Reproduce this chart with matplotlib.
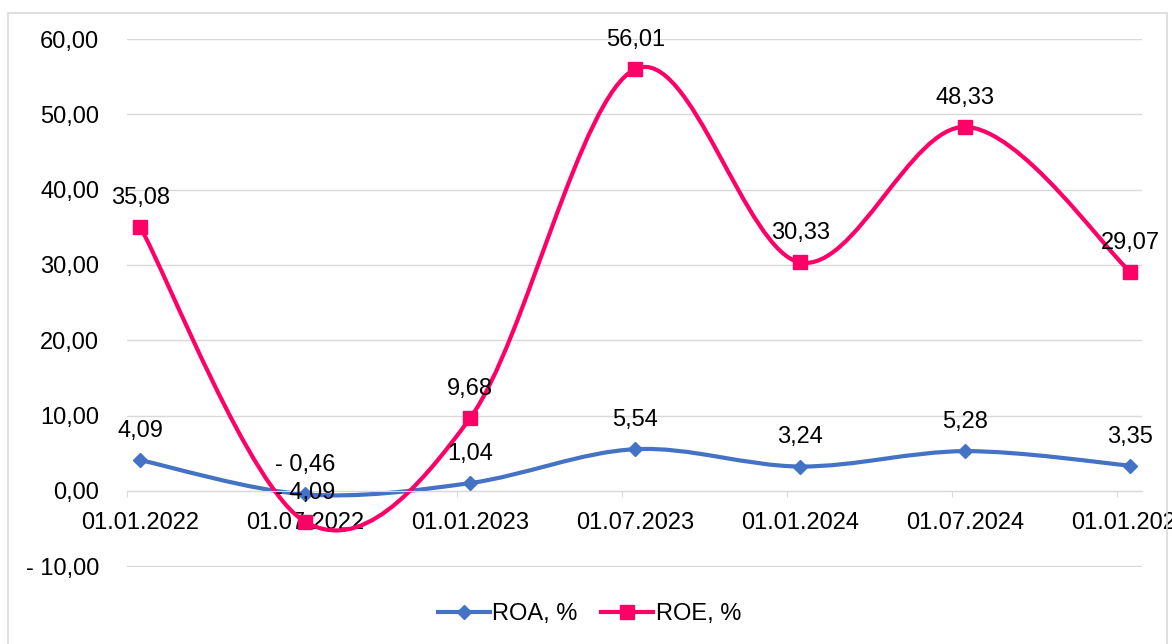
import matplotlib.pyplot as plt
from matplotlib.patches import PathPatch, Rectangle
from matplotlib.path import Path
from matplotlib.ticker import FuncFormatter

# データ
dates = ['01.01.2022', '01.07.2022', '01.01.2023', '01.07.2023',
         '01.01.2024', '01.07.2024', '01.01.2025']
roa = [4.09, -0.46, 1.04, 5.54, 3.24, 5.28, 3.35]
roe = [35.08, -4.09, 9.68, 56.01, 30.33, 48.33, 29.07]

BLUE = '#4472C4'
PINK = '#FF0066'
GRID = '#D9D9D9'
FS = 17

plt.rcParams['font.family'] = ['Liberation Sans', 'DejaVu Sans']


def fmt(v):
    # 「- 10,00」形式
    s = f'{abs(v):.2f}'.replace('.', ',')
    return f'- {s}' if v < 0 else s


def smooth_path(xs, ys):
    """Excel風の平滑線（ベジェ曲線）"""
    pts = list(zip(xs, ys))
    verts = [pts[0]]
    codes = [Path.MOVETO]
    n = len(pts)
    for i in range(n - 1):
        p0 = pts[max(i - 1, 0)]
        p1 = pts[i]
        p2 = pts[i + 1]
        p3 = pts[min(i + 2, n - 1)]
        c1 = (p1[0] + (p2[0] - p0[0]) / 6, p1[1] + (p2[1] - p0[1]) / 6)
        c2 = (p2[0] - (p3[0] - p1[0]) / 6, p2[1] - (p3[1] - p1[1]) / 6)
        verts += [c1, c2, p2]
        codes += [Path.CURVE4] * 3
    return Path(verts, codes)


fig = plt.figure(figsize=(11.72, 6.44), dpi=100)
ax = fig.add_axes([0.1084, 0.1196, 0.866, 0.8198])

x = list(range(len(dates)))

for ys, color, marker, ms in [(roa, BLUE, 'D', 7.5), (roe, PINK, 's', 10.5)]:
    ax.add_patch(PathPatch(smooth_path(x, ys), facecolor='none', edgecolor=color,
                           lw=3, capstyle='round', zorder=2))
    ax.plot(x, ys, linestyle='none', marker=marker, ms=ms, color=color, zorder=3)
    for xi, yi in zip(x, ys):
        ax.annotate(fmt(yi), (xi, yi), xytext=(0, 21), textcoords='offset points',
                    ha='center', va='center', fontsize=FS, zorder=4)

# 凡例用
ax.plot([], [], color=BLUE, lw=3, marker='D', ms=7.5, label='ROA, %')
ax.plot([], [], color=PINK, lw=3, marker='s', ms=10.5, label='ROE, %')

# Y軸
ax.set_ylim(-10.1, 60)
ax.set_yticks(range(-10, 61, 10))
ax.yaxis.set_major_formatter(FuncFormatter(lambda v, p: fmt(v)))
ax.tick_params(axis='y', length=0, pad=20, labelsize=FS)
ax.grid(axis='y', color=GRID, lw=1)

# X軸（目盛りは点より少し左）
off = 0.079
ax.set_xlim(-off, 6.07)
ax.set_xticks([i - off for i in x])
ax.set_xticklabels([])
ax.set_xticks(x, minor=True)
ax.set_xticklabels(dates, minor=True)
ax.tick_params(axis='x', which='major', length=4.5, color=GRID, direction='out')
ax.tick_params(axis='x', which='minor', length=0, pad=15, labelsize=FS)
ax.spines['bottom'].set_position(('data', 0))
ax.spines['bottom'].set_color(GRID)
for s in ['top', 'right', 'left']:
    ax.spines[s].set_visible(False)
ax.set_axisbelow(True)

ax.legend(loc='center', bbox_to_anchor=(0.503, 0.0466), bbox_transform=fig.transFigure,
          ncol=2, frameon=False, fontsize=FS, handlelength=2.2, handletextpad=0.1,
          columnspacing=1.0)

# 外枠
fig.patches.append(Rectangle((8 / 1172, -0.1), 1159 / 1172, 1.1 - 13 / 644,
                             transform=fig.transFigure, fill=False, edgecolor=GRID, lw=1.2))

plt.savefig('out.png', dpi=100)
